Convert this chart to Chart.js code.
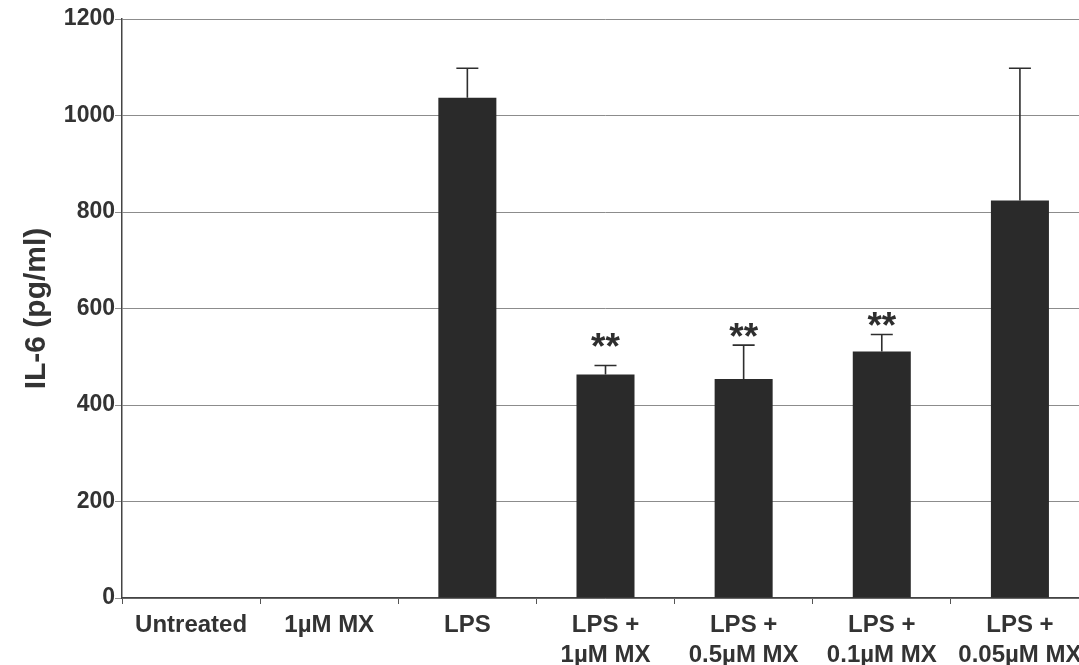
<!DOCTYPE html>
<html>
<head>
<meta charset="utf-8">
<script src="https://cdn.jsdelivr.net/npm/chart.js@4/dist/chart.umd.min.js"></script>
<style>
  html, body { margin: 0; padding: 0; background: #fff; overflow: hidden; }
  #wrap { width: 1092px; height: 665px; position: relative; }
</style>
</head>
<body>
<div id="wrap"><canvas id="c"></canvas></div>
<script>
// ---- data ----
const categories = [
  ['Untreated'],
  ['1\u00B5M MX'],
  ['LPS'],
  ['LPS +', '1\u00B5M MX'],
  ['LPS +', '0.5\u00B5M MX'],
  ['LPS +', '0.1\u00B5M MX'],
  ['LPS +', '0.05\u00B5M MX']
];
const il6Means = [0, 0, 1037, 463, 454, 511, 824];
const il6Errors = [0, 0, 61, 19, 70, 35, 274];
const significance = ['', '', '', '**', '**', '**', ''];
const starValues = [null, null, null, 539, 560, 582, null];
const yTicks = [0, 200, 400, 600, 800, 1000, 1200];

const FONT = "'Liberation Sans', Arial, Helvetica, sans-serif";
const INK = '#333333';

const errorBarPlugin = {
  id: 'errorBars',
  afterDatasetsDraw(chart) {
    const ctx = chart.ctx;
    const meta = chart.getDatasetMeta(0);
    const y = chart.scales.y;
    ctx.save();
    ctx.strokeStyle = '#2e2e2e';
    ctx.lineWidth = 1.6;
    meta.data.forEach((bar, i) => {
      const err = il6Errors[i];
      if (!err) return;
      const top = y.getPixelForValue(il6Means[i]);
      const cap = y.getPixelForValue(il6Means[i] + err);
      const half = 11;
      ctx.beginPath();
      ctx.moveTo(bar.x, top);
      ctx.lineTo(bar.x, cap);
      ctx.moveTo(bar.x - half, cap);
      ctx.lineTo(bar.x + half, cap);
      ctx.stroke();
    });
    // significance stars
    const size = 37;
    ctx.fillStyle = '#2e2e2e';
    ctx.font = 'bold ' + size + 'px ' + FONT;
    ctx.textAlign = 'center';
    ctx.textBaseline = 'alphabetic';
    meta.data.forEach((bar, i) => {
      if (!significance[i] || starValues[i] == null) return;
      const py = y.getPixelForValue(starValues[i]);
      ctx.fillText(significance[i], bar.x, py + 0.57 * size);
    });
    ctx.restore();
  }
};

new Chart(document.getElementById('c'), {
  type: 'bar',
  data: {
    labels: categories,
    datasets: [{
      data: il6Means,
      backgroundColor: '#2a2a2a',
      borderWidth: 0,
      barPercentage: 0.42,
      categoryPercentage: 1.0
    }]
  },
  options: {
    responsive: true,
    maintainAspectRatio: false,
    animation: false,
    devicePixelRatio: 1,
    layout: { padding: { top: 19, right: 3, left: 0, bottom: 0 } },
    plugins: {
      legend: { display: false },
      tooltip: { enabled: false }
    },
    scales: {
      x: {
        grid: {
          display: true,
          drawOnChartArea: false,
          drawTicks: true,
          offset: true,
          tickLength: 6,
          color: '#555'
        },
        border: { display: true, color: '#444', width: 1.5 },
        ticks: {
          color: INK,
          font: { family: FONT, size: 24, weight: 'bold', lineHeight: 1.25 },
          padding: 6,
          maxRotation: 0,
          autoSkip: false
        },
        afterFit(scale) { scale.height = 67; }
      },
      y: {
        min: 0,
        max: 1200,
        afterBuildTicks(scale) { scale.ticks = yTicks.map(v => ({ value: v })); },
        grid: {
          color: '#8c8c8c',
          lineWidth: 1,
          drawTicks: true,
          tickLength: 7
        },
        border: { display: true, color: '#444', width: 1.5 },
        ticks: {
          color: INK,
          font: { family: FONT, size: 23, weight: 'bold' },
          padding: 0,
          callback: (v) => String(v)
        },
        title: {
          display: true,
          text: 'IL-6 (pg/ml)',
          color: INK,
          font: { family: FONT, size: 30, weight: 'bold' },
          padding: { top: 19, bottom: 0 }
        },
        afterFit(scale) { scale.width = 122; }
      }
    }
  },
  plugins: [errorBarPlugin]
});
</script>
</body>
</html>
